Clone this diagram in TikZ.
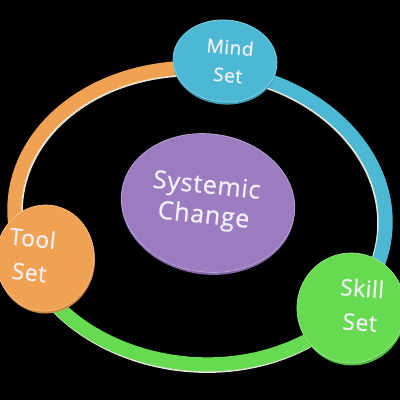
\documentclass[tikz,border=0pt]{standalone}
\usepackage{fontspec}
\setmainfont{Open Sans}
\usetikzlibrary{shapes.geometric}
\definecolor{orng}{HTML}{F0A152}
\definecolor{orngd}{HTML}{D08A42}
\definecolor{blu}{HTML}{4DB8D4}
\definecolor{blud}{HTML}{3C9CB5}
\definecolor{grn}{HTML}{66DB52}
\definecolor{grnd}{HTML}{52BD42}
\definecolor{purp}{HTML}{9B7CC0}
\definecolor{purpd}{HTML}{8266A6}
\definecolor{hilite}{HTML}{E6E6D8}
\definecolor{txt}{HTML}{F2F0F6}
\tikzset{
  disc/.style={ellipse, inner sep=0pt, draw=none},
  band/.style={line width=14pt},
  hband/.style={line width=14pt, draw=hilite},
  lbl/.style={text=txt, align=center, inner sep=0pt},
}
\begin{document}
\begin{tikzpicture}[x=1pt,y=-1pt]
\fill[black] (0,0) rectangle (400,400);
\useasboundingbox (0,0) rectangle (400,400);
% ring highlight (visible wall)
\draw[hband] plot[domain=0:360, samples=160, variable=\t]
  ({200+184.5*cos(\t)*cos(5)-148*sin(\t)*sin(5)}, {217.6+184.5*cos(\t)*sin(5)+148*sin(\t)*cos(5)});
% ring segments
\draw[band, draw=orng] plot[domain=150:280, samples=80, variable=\t]
  ({200+186*cos(\t)*cos(5)-148*sin(\t)*sin(5)}, {216+186*cos(\t)*sin(5)+148*sin(\t)*cos(5)});
\draw[band, draw=blu] plot[domain=-90:36, samples=80, variable=\t]
  ({200+186*cos(\t)*cos(5)-148*sin(\t)*sin(5)}, {216+186*cos(\t)*sin(5)+148*sin(\t)*cos(5)});
\draw[band, draw=grn] plot[domain=26:160, samples=80, variable=\t]
  ({200+186*cos(\t)*cos(5)-148*sin(\t)*sin(5)}, {216+186*cos(\t)*sin(5)+148*sin(\t)*cos(5)});
% discs: thickness then face
\node[disc, fill=purpd, minimum width=174pt, minimum height=138pt, rotate=-8] (sysb) at (208,205.5) {};
\node[disc, fill=purp, draw=purp!70!white, line width=0.8pt, minimum width=174pt, minimum height=138pt, rotate=-8] (sys) at (208,203) {};
\node[disc, fill=blud, minimum width=104pt, minimum height=82pt, rotate=-5] (mindb) at (225,63.5) {};
\node[disc, fill=blu, draw=blu!70!white, line width=0.8pt, minimum width=104pt, minimum height=82pt, rotate=-5] (mind) at (225,61) {};
\node[disc, fill=orngd, minimum width=98pt, minimum height=106pt, rotate=-5] (toolb) at (46,260.5) {};
\node[disc, fill=orng, draw=orng!70!white, line width=0.8pt, minimum width=98pt, minimum height=106pt, rotate=-5] (tool) at (45,258) {};
\node[disc, fill=grnd, minimum width=108pt, minimum height=110pt, rotate=-5] (skillb) at (352,310.5) {};
\node[disc, fill=grn, draw=grn!70!white, line width=0.8pt, minimum width=108pt, minimum height=110pt, rotate=-5] (skill) at (351,308) {};
% labels
\node[lbl, font=\addfontfeature{LetterSpace=3,FakeBold=0.8}\fontsize{25}{30}\selectfont, rotate=-6] (systxt) at (205,202) {Systemic\\Change};
\node[lbl, font=\addfontfeature{LetterSpace=3,FakeBold=0.8}\fontsize{19}{28}\selectfont, rotate=-5] (mindtxt) at (229,61) {Mind\\Set};
\node[lbl, font=\addfontfeature{LetterSpace=2,FakeBold=0.8}\fontsize{23}{34}\selectfont, rotate=-6] (tooltxt) at (31,255) {Tool\\Set};
\node[lbl, font=\addfontfeature{LetterSpace=2,FakeBold=0.8}\fontsize{23}{34}\selectfont, rotate=-4] (skilltxt) at (361,305) {Skill\\Set};
\end{tikzpicture}
\end{document}
